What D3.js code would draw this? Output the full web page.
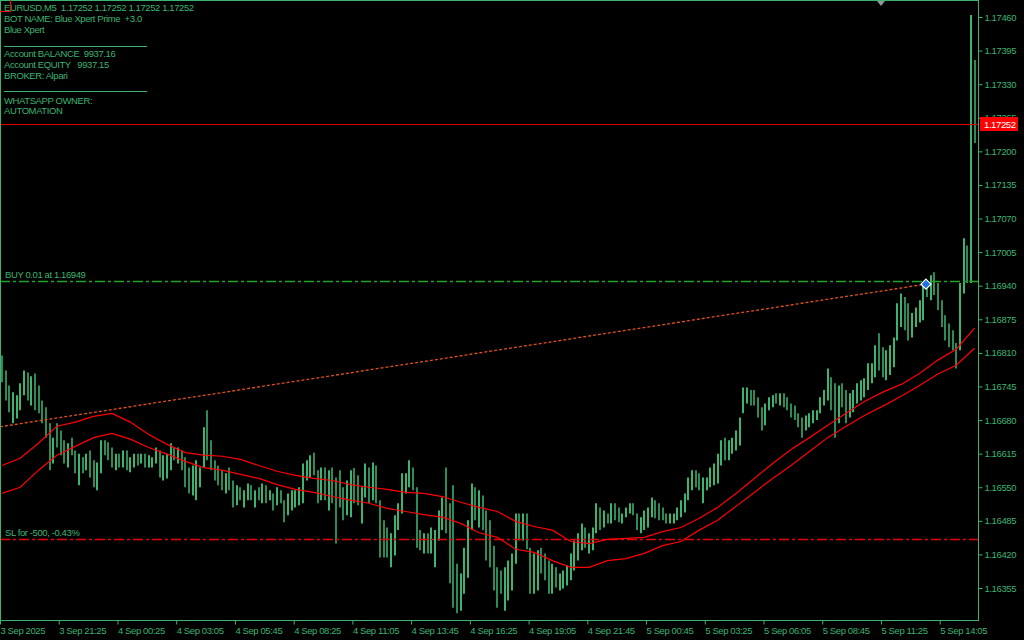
<!DOCTYPE html>
<html><head><meta charset="utf-8">
<script src="https://cdn.jsdelivr.net/npm/d3@7"></script>
<style>html,body{margin:0;padding:0;background:#000;overflow:hidden}text{white-space:pre}</style>
</head><body><svg id="c" width="1024" height="640"></svg>
<script>
// ---- data (EURUSD M5, aggregated per two M5 slots) ----
const highs = [
1.16805,1.16776,1.16747,1.16734,1.16728,1.16751,1.16776,1.16772,1.16765,1.16770,
1.16747,1.16718,1.16705,1.16674,1.16646,1.16674,1.16660,1.16641,1.16635,1.16646,
1.16621,1.16615,1.16608,1.16615,1.16621,1.16602,1.16598,1.16641,1.16641,1.16637,
1.16627,1.16615,1.16615,1.16621,1.16621,1.16608,1.16615,1.16615,1.16615,1.16615,
1.16612,1.16608,1.16627,1.16621,1.16612,1.16615,1.16635,1.16627,1.16627,1.16621,
1.16608,1.16588,1.16592,1.16602,1.16588,1.16666,1.16699,1.16641,1.16602,1.16592,
1.16583,1.16577,1.16588,1.16563,1.16554,1.16550,1.16544,1.16557,1.16554,1.16544,
1.16550,1.16557,1.16554,1.16544,1.16538,1.16550,1.16544,1.16525,1.16538,1.16544,
1.16544,1.16550,1.16596,1.16602,1.16612,1.16617,1.16583,1.16588,1.16588,1.16583,
1.16588,1.16569,1.16583,1.16550,1.16563,1.16583,1.16587,1.16573,1.16550,1.16596,
1.16588,1.16598,1.16592,1.16525,1.16486,1.16472,1.16461,1.16496,1.16519,1.16577,
1.16577,1.16602,1.16588,1.16550,1.16467,1.16461,1.16461,1.16472,1.16467,1.16505,
1.16530,1.16588,1.16519,1.16554,1.16402,1.16383,1.16433,1.16486,1.16557,1.16550,
1.16544,1.16534,1.16505,1.16486,1.16437,1.16395,1.16389,1.16395,1.16408,1.16422,
1.16499,1.16499,1.16499,1.16499,1.16433,1.16422,1.16428,1.16433,1.16422,1.16408,
1.16402,1.16395,1.16383,1.16389,1.16399,1.16422,1.16447,1.16461,1.16480,1.16472,
1.16461,1.16472,1.16519,1.16511,1.16505,1.16499,1.16519,1.16519,1.16511,1.16499,
1.16511,1.16519,1.16519,1.16499,1.16492,1.16505,1.16511,1.16530,1.16525,1.16519,
1.16511,1.16499,1.16499,1.16499,1.16511,1.16525,1.16538,1.16569,1.16583,1.16583,
1.16577,1.16569,1.16569,1.16588,1.16596,1.16615,1.16641,1.16646,1.16641,1.16646,
1.16660,1.16685,1.16743,1.16743,1.16738,1.16738,1.16724,1.16705,1.16712,1.16724,
1.16728,1.16732,1.16732,1.16732,1.16724,1.16712,1.16708,1.16693,1.16685,1.16689,
1.16693,1.16699,1.16699,1.16724,1.16738,1.16780,1.16763,1.16751,1.16747,1.16751,
1.16738,1.16732,1.16738,1.16751,1.16757,1.16761,1.16790,1.16790,1.16825,1.16848,
1.16821,1.16815,1.16825,1.16840,1.16906,1.16925,1.16918,1.16906,1.16887,1.16898,
1.16912,1.16945,1.16951,1.16960,1.16966,1.16945,1.16912,1.16883,1.16867,1.16854,
1.16829,1.16945,1.17032,1.17018,1.17464,1.17377];
const lows = [
1.16753,1.16718,1.16695,1.16674,1.16683,1.16699,1.16728,1.16718,1.16708,1.16699,
1.16693,1.16674,1.16646,1.16583,1.16596,1.16627,1.16612,1.16596,1.16588,1.16612,
1.16577,1.16554,1.16577,1.16583,1.16569,1.16550,1.16544,1.16577,1.16612,1.16602,
1.16588,1.16583,1.16588,1.16588,1.16583,1.16579,1.16588,1.16592,1.16596,1.16588,
1.16588,1.16588,1.16596,1.16569,1.16563,1.16567,1.16583,1.16602,1.16596,1.16583,
1.16550,1.16538,1.16534,1.16525,1.16550,1.16588,1.16602,1.16583,1.16563,1.16554,
1.16544,1.16538,1.16544,1.16511,1.16515,1.16525,1.16511,1.16525,1.16525,1.16511,
1.16525,1.16519,1.16519,1.16525,1.16505,1.16515,1.16519,1.16482,1.16496,1.16505,
1.16511,1.16515,1.16519,1.16563,1.16569,1.16573,1.16519,1.16525,1.16525,1.16505,
1.16519,1.16441,1.16511,1.16486,1.16496,1.16492,1.16519,1.16515,1.16480,1.16530,
1.16519,1.16525,1.16519,1.16414,1.16414,1.16414,1.16395,1.16418,1.16467,1.16499,
1.16538,1.16550,1.16544,1.16433,1.16428,1.16422,1.16422,1.16422,1.16395,1.16447,
1.16467,1.16461,1.16364,1.16317,1.16306,1.16311,1.16344,1.16375,1.16467,1.16486,
1.16472,1.16467,1.16408,1.16395,1.16350,1.16317,1.16344,1.16311,1.16331,1.16350,
1.16402,1.16447,1.16447,1.16430,1.16344,1.16344,1.16350,1.16383,1.16370,1.16344,
1.16344,1.16356,1.16350,1.16354,1.16360,1.16370,1.16389,1.16408,1.16428,1.16433,
1.16422,1.16428,1.16461,1.16467,1.16472,1.16480,1.16480,1.16486,1.16482,1.16480,
1.16492,1.16499,1.16496,1.16467,1.16461,1.16467,1.16472,1.16492,1.16490,1.16486,
1.16486,1.16480,1.16480,1.16480,1.16486,1.16492,1.16501,1.16525,1.16544,1.16550,
1.16544,1.16519,1.16544,1.16550,1.16554,1.16557,1.16592,1.16602,1.16602,1.16615,
1.16621,1.16631,1.16693,1.16712,1.16708,1.16708,1.16685,1.16660,1.16670,1.16699,
1.16705,1.16712,1.16708,1.16705,1.16699,1.16685,1.16680,1.16666,1.16646,1.16660,
1.16666,1.16674,1.16680,1.16693,1.16708,1.16718,1.16699,1.16646,1.16674,1.16705,
1.16674,1.16685,1.16695,1.16712,1.16718,1.16724,1.16738,1.16751,1.16763,1.16776,
1.16763,1.16757,1.16767,1.16782,1.16834,1.16860,1.16854,1.16834,1.16840,1.16860,
1.16869,1.16873,1.16918,1.16912,1.16922,1.16893,1.16860,1.16834,1.16821,1.16815,
1.16780,1.16815,1.16925,1.16945,1.16945,1.17216];
const closes = [
1.16770,1.16730,1.16700,1.16720,1.16740,1.16745,1.16760,1.16730,1.16755,1.16720,
1.16700,1.16690,1.16660,1.16620,1.16640,1.16630,1.16625,1.16600,1.16630,1.16615,
1.16590,1.16600,1.16595,1.16605,1.16580,1.16560,1.16590,1.16630,1.16620,1.16605,
1.16595,1.16605,1.16600,1.16610,1.16590,1.16600,1.16608,1.16600,1.16605,1.16598,
1.16600,1.16605,1.16610,1.16580,1.16590,1.16610,1.16620,1.16610,1.16615,1.16595,
1.16560,1.16555,1.16570,1.16575,1.16585,1.16650,1.16620,1.16595,1.16570,1.16565,
1.16555,1.16560,1.16550,1.16530,1.16540,1.16530,1.16535,1.16545,1.16530,1.16540,
1.16535,1.16545,1.16530,1.16535,1.16520,1.16540,1.16522,1.16505,1.16525,1.16530,
1.16535,1.16545,1.16585,1.16595,1.16600,1.16578,1.16540,1.16570,1.16550,1.16560,
1.16550,1.16540,1.16530,1.16520,1.16545,1.16560,1.16540,1.16525,1.16540,1.16575,
1.16560,1.16580,1.16525,1.16450,1.16440,1.16430,1.16450,1.16480,1.16510,1.16560,
1.16570,1.16575,1.16548,1.16450,1.16440,1.16445,1.16435,1.16450,1.16460,1.16490,
1.16510,1.16500,1.16400,1.16350,1.16340,1.16370,1.16420,1.16480,1.16520,1.16500,
1.16515,1.16480,1.16450,1.16410,1.16370,1.16360,1.16355,1.16370,1.16390,1.16415,
1.16480,1.16470,1.16485,1.16435,1.16380,1.16400,1.16410,1.16400,1.16390,1.16370,
1.16375,1.16365,1.16370,1.16380,1.16395,1.16415,1.16435,1.16450,1.16465,1.16450,
1.16455,1.16468,1.16500,1.16490,1.16495,1.16490,1.16505,1.16500,1.16495,1.16497,
1.16505,1.16510,1.16498,1.16475,1.16480,1.16495,1.16505,1.16515,1.16505,1.16500,
1.16490,1.16488,1.16492,1.16495,1.16505,1.16520,1.16535,1.16565,1.16570,1.16565,
1.16555,1.16560,1.16565,1.16580,1.16590,1.16605,1.16625,1.16620,1.16630,1.16640,
1.16655,1.16680,1.16725,1.16730,1.16720,1.16715,1.16695,1.16690,1.16705,1.16715,
1.16722,1.16720,1.16725,1.16715,1.16705,1.16695,1.16685,1.16675,1.16670,1.16680,
1.16685,1.16690,1.16695,1.16715,1.16730,1.16750,1.16720,1.16700,1.16725,1.16720,
1.16700,1.16715,1.16730,1.16740,1.16745,1.16755,1.16770,1.16780,1.16810,1.16790,
1.16785,1.16800,1.16810,1.16836,1.16890,1.16900,1.16870,1.16860,1.16875,1.16890,
1.16900,1.16935,1.16930,1.16950,1.16930,1.16900,1.16870,1.16845,1.16835,1.16820,
1.16810,1.16935,1.16990,1.16960,1.17300,1.17252];
const firstOpen = 1.16790;
// moving averages, sampled every 5th bar
const maFast = [1.16592,1.16606,1.16635,1.16668,1.16676,1.16687,1.16693,1.16676,1.16652,1.16633,
1.16617,1.16612,1.16610,1.16604,1.16592,1.16581,1.16573,1.16567,1.16563,1.16555,
1.16550,1.16546,1.16540,1.16538,1.16532,1.16521,1.16511,1.16503,1.16484,1.16474,
1.16467,1.16445,1.16441,1.16449,1.16451,1.16453,1.16464,1.16472,1.16490,1.16511,
1.16538,1.16567,1.16596,1.16623,1.16646,1.16670,1.16693,1.16716,1.16734,1.16749,
1.16770,1.16796,1.16817,1.16858];
const maSlow = [1.16538,1.16550,1.16583,1.16612,1.16629,1.16646,1.16654,1.16643,1.16627,1.16614,
1.16600,1.16588,1.16583,1.16575,1.16567,1.16555,1.16546,1.16540,1.16532,1.16525,
1.16519,1.16509,1.16503,1.16497,1.16492,1.16480,1.16462,1.16453,1.16430,1.16424,
1.16408,1.16395,1.16395,1.16408,1.16412,1.16422,1.16437,1.16445,1.16467,1.16486,
1.16513,1.16540,1.16567,1.16592,1.16619,1.16646,1.16668,1.16689,1.16707,1.16726,
1.16747,1.16769,1.16786,1.16819];
const priceTicks = [1.17460,1.17395,1.17330,1.17265,1.17200,1.17135,1.17070,1.17005,1.16940,
1.16875,1.16810,1.16745,1.16680,1.16615,1.16550,1.16485,1.16420,1.16355];
const timeLabels = ["3 Sep 2025","3 Sep 21:25","4 Sep 00:25","4 Sep 03:05","4 Sep 05:45","4 Sep 08:25",
"4 Sep 11:05","4 Sep 13:45","4 Sep 16:25","4 Sep 19:05","4 Sep 21:45","5 Sep 00:45","5 Sep 03:25",
"5 Sep 06:05","5 Sep 08:45","5 Sep 11:25","5 Sep 14:05"];
const lastPrice = 1.17252, buyPrice = 1.16949, slPrice = 1.16450;
const tradeLine = [{slot:0, price:1.16667},{slot:504.5, price:1.16943}];
const infoLines = ["EURUSD,M5  1.17252 1.17252 1.17252 1.17252","BOT NAME: Blue Xpert Prime  +3.0","Blue Xpert",
"Account BALANCE  9937.16","Account EQUITY   9937.15","BROKER: Alpari","WHATSAPP OWNER:","AUTOMATION"];

// ---- drawing ----
const W=1024,H=640, PR=978, PB=620;
const GREEN='#3cb371', UP='#3cb371', DOWN='#2e8b57';
const FONT='"Liberation Sans", Arial, sans-serif';
const svg=d3.select('#c');
svg.append('rect').attr('width',W).attr('height',H).attr('fill','#000');
const x=d3.scaleLinear().domain([0,512]).range([0,939.7]);
const y=d3.scaleLinear().domain([1.16355,1.17460]).range([588,17]);
svg.append('defs').append('clipPath').attr('id','pc').append('rect').attr('x',1).attr('y',1).attr('width',PR-1).attr('height',PB-1);
const plot=svg.append('g').attr('clip-path','url(#pc)');

// bars
const N=highs.length;
plot.append('g').selectAll('line').data(d3.range(N)).join('line')
  .attr('x1',i=>Math.round(x(2*i+1))).attr('x2',i=>Math.round(x(2*i+1)))
  .attr('y1',i=>y(highs[i])).attr('y2',i=>y(lows[i]))
  .attr('stroke',i=>{const o=i?closes[i-1]:firstOpen;return closes[i]>=o?UP:DOWN;})
  .attr('stroke-width',2);

// horizontal lines
function hline(p,color,dash){plot.append('line').attr('x1',0).attr('x2',PR).attr('y1',Math.round(y(p))+0.5).attr('y2',Math.round(y(p))+0.5)
  .attr('stroke',color).attr('stroke-width',1.3).attr('stroke-dasharray',dash);}
hline(buyPrice,'#22a522','10,3,3,3');
hline(slPrice,'#e60000','10,3,3,3');
plot.append('line').attr('x1',0).attr('x2',PR).attr('y1',Math.round(y(lastPrice))+0.5).attr('y2',Math.round(y(lastPrice))+0.5)
  .attr('stroke','#e00000').attr('stroke-width',1);

// trade line
plot.append('path').datum(tradeLine).attr('d',d3.line().x(d=>x(d.slot)).y(d=>y(d.price)))
  .attr('fill','none').attr('stroke','#e0501e').attr('stroke-width',1.3).attr('stroke-dasharray','3,2');

// moving averages
const maLine=d3.line().x((d,k)=>x(10*k+1)).y(d=>y(d));
[maFast,maSlow].forEach(a=>plot.append('path').datum(a).attr('d',maLine).attr('fill','none').attr('stroke','#ff0000').attr('stroke-width',1.2));

// buy marker
const mx=x(tradeLine[1].slot), my=y(tradeLine[1].price);
plot.append('path').attr('d',`M${mx},${my-5}L${mx+5},${my}L${mx},${my+5}L${mx-5},${my}Z`).attr('fill','#1f6fe0').attr('stroke','#ffffff').attr('stroke-width',1.2);

// frame
svg.append('rect').attr('x',0.5).attr('y',0.5).attr('width',PR).attr('height',PB).attr('fill','none').attr('stroke',GREEN);

// price axis
const ya=svg.append('g').attr('transform',`translate(${PR+0.5},0)`)
  .call(d3.axisRight(y).tickValues(priceTicks).tickSize(4).tickFormat(d3.format('.5f')));
ya.select('.domain').remove();
ya.selectAll('line').attr('stroke',GREEN);
ya.selectAll('text').attr('fill',GREEN).attr('font-family',FONT).attr('font-size','9.5px').attr('letter-spacing','-0.4px').attr('x',6);

// time axis
const xa=svg.append('g').attr('transform',`translate(0,${PB+0.5})`)
  .call(d3.axisBottom(x).tickValues(d3.range(timeLabels.length).map(k=>32*k)).tickSize(4).tickFormat((d,k)=>timeLabels[k]));
xa.select('.domain').remove();
xa.selectAll('line').attr('stroke',GREEN);
xa.selectAll('text').attr('fill',GREEN).attr('font-family',FONT).attr('font-size','9.5px').attr('letter-spacing','-0.4px')
  .attr('text-anchor','start').attr('x',0).attr('y',6).attr('dy','0.75em');

// last price label
const ly=y(lastPrice);
svg.append('rect').attr('x',980).attr('y',Math.round(ly)-7).attr('width',38).attr('height',14).attr('fill','#ff0000');
svg.append('text').attr('x',984).attr('y',Math.round(ly)+4).text(d3.format('.5f')(lastPrice))
  .attr('fill','#ffffff').attr('font-family',FONT).attr('font-size','9.5px').attr('letter-spacing','-0.4px');

// info text
const infoY=[10.5,22,33,57,68,79,103.5,114];
svg.append('g').selectAll('text').data(infoLines).join('text')
  .attr('x',4).attr('y',(d,k)=>infoY[k]).text(d=>d)
  .attr('fill',GREEN).attr('font-family',FONT).attr('font-size','9.5px').attr('letter-spacing','-0.4px');
[46.5,91.5].forEach(v=>svg.append('line').attr('x1',4).attr('x2',147).attr('y1',v).attr('y2',v).attr('stroke',GREEN));
svg.append('path').attr('d','M0,11.5H10.5V0').attr('fill','none').attr('stroke','#ff0000');

// line labels
svg.append('text').attr('x',5).attr('y',Math.round(y(buyPrice))-3).text('BUY 0.01 at '+d3.format('.5f')(buyPrice))
  .attr('fill',GREEN).attr('font-family',FONT).attr('font-size','9.5px').attr('letter-spacing','-0.4px');
svg.append('text').attr('x',5).attr('y',Math.round(y(slPrice))-3).text('SL for -500, -0.43%')
  .attr('fill',GREEN).attr('font-family',FONT).attr('font-size','9.5px').attr('letter-spacing','-0.4px');

// chart shift marker
svg.append('path').attr('d','M877,1L885,1L881,6Z').attr('fill','#8a9a9a');
</script></body></html>
